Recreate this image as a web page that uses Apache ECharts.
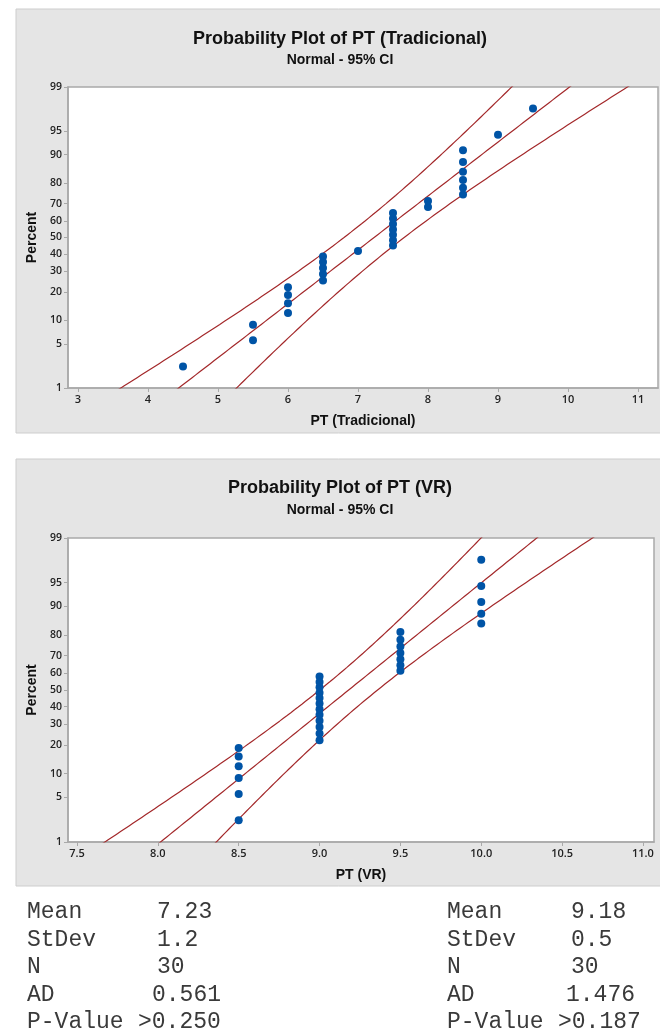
<!DOCTYPE html>
<html>
<head>
<meta charset="utf-8">
<script src="https://cdn.jsdelivr.net/npm/echarts@6/dist/echarts.min.js"></script>
<style>
html,body{margin:0;padding:0;background:#fff;}
#c{width:660px;height:1031px;}
</style>
</head>
<body>
<div id="c"></div>
<script>
// ---------------- data ----------------
const percentTicks = [1, 5, 10, 20, 30, 40, 50, 60, 70, 80, 90, 95, 99];
const tradXTicks = [3, 4, 5, 6, 7, 8, 9, 10, 11];
const vrXTicks = [7.5, 8.0, 8.5, 9.0, 9.5, 10.0, 10.5, 11.0];
const tradValues = [4.5, 5.5, 5.5, 6, 6, 6, 6, 6.5, 6.5, 6.5, 6.5, 6.5, 7,
  7.5, 7.5, 7.5, 7.5, 7.5, 7.5, 7.5, 8, 8, 8.5, 8.5, 8.5, 8.5, 8.5, 8.5, 9, 9.5];
const vrValues = [8.5, 8.5, 8.5, 8.5, 8.5, 8.5,
  9, 9, 9, 9, 9, 9, 9, 9, 9, 9, 9, 9,
  9.5, 9.5, 9.5, 9.5, 9.5, 9.5, 9.5,
  10, 10, 10, 10, 10];
const statLabels = ['Mean', 'StDev', 'N', 'AD', 'P-Value'];
const tradStatText = ['7.23', '1.2', '30', '0.561', '>0.250'];
const vrStatText = ['9.18', '0.5', '30', '1.476', '>0.187'];
const tradMean = 7.23, tradSD = 1.2, tradN = 30;
const vrMean = 9.18, vrSD = 0.5, vrN = 30;

// ---------------- helpers ----------------
function probit(p) {
  const a = [-3.969683028665376e+01, 2.209460984245205e+02, -2.759285104469687e+02, 1.383577518672690e+02, -3.066479806614716e+01, 2.506628277459239e+00];
  const b = [-5.447609879822406e+01, 1.615858368580409e+02, -1.556989798598866e+02, 6.680131188771972e+01, -1.328068155288572e+01];
  const c = [-7.784894002430293e-03, -3.223964580411365e-01, -2.400758277161838e+00, -2.549732539343734e+00, 4.374664141464968e+00, 2.938163982698783e+00];
  const d = [7.784695709041462e-03, 3.224671290700398e-01, 2.445134137142996e+00, 3.754408661907416e+00];
  const pl = 0.02425, ph = 1 - pl;
  let q, r;
  if (p < pl) {
    q = Math.sqrt(-2 * Math.log(p));
    return (((((c[0]*q+c[1])*q+c[2])*q+c[3])*q+c[4])*q+c[5]) / ((((d[0]*q+d[1])*q+d[2])*q+d[3])*q+1);
  } else if (p <= ph) {
    q = p - 0.5; r = q*q;
    return (((((a[0]*r+a[1])*r+a[2])*r+a[3])*r+a[4])*r+a[5])*q / (((((b[0]*r+b[1])*r+b[2])*r+b[3])*r+b[4])*r+1);
  } else {
    q = Math.sqrt(-2 * Math.log(1 - p));
    return -(((((c[0]*q+c[1])*q+c[2])*q+c[3])*q+c[4])*q+c[5]) / ((((d[0]*q+d[1])*q+d[2])*q+d[3])*q+1);
  }
}
const zMin = probit(0.01), zMax = probit(0.99);
const zTicks = percentTicks.map(p => probit(p / 100));

function points(vals) {
  const s = vals.slice().sort((x, y) => x - y), n = s.length;
  return s.map((v, i) => [v, probit((i + 1 - 0.3) / (n + 0.4))]);
}
function fitLines(mu, sd, n) {
  const mid = [], lo = [], hi = [];
  for (let k = 0; k <= 120; k++) {
    const z = -2.6 + k * 5.2 / 120;
    const x = mu + sd * z;
    const h = 1.96 * sd * Math.sqrt((1 + z * z / 2) / n);
    mid.push([x, z]); lo.push([x - h, z]); hi.push([x + h, z]);
  }
  return [mid, lo, hi];
}

const LINE = '#a3282a', DOT = '#0054a6', BORDER = '#a9a9a9';
const narrow = "'Liberation Sans', sans-serif";
const tickFont = "'Open Sans', 'Noto Sans', sans-serif";

function xAxis(gi, min, max, ticks, name, dec) {
  return {
    gridIndex: gi, type: 'value', min: min, max: max,
    name: name, nameLocation: 'middle', nameGap: 26,
    nameTextStyle: { fontFamily: narrow, fontWeight: 'bold', fontSize: 14, color: '#111' },
    axisLine: { show: true, onZero: false, lineStyle: { color: BORDER, width: 1.5 } },
    axisTick: { show: true, length: 4, lineStyle: { color: BORDER }, customValues: ticks },
    axisLabel: { customValues: ticks, margin: 6, fontFamily: tickFont, fontWeight: 600, fontSize: 11, color: '#222',
      formatter: v => dec ? v.toFixed(1) : String(Math.round(v)) },
    splitLine: { show: false }
  };
}
function yAxis(gi) {
  return {
    gridIndex: gi, type: 'value', min: zMin, max: zMax,
    name: 'Percent', nameLocation: 'middle', nameGap: 29, nameRotate: 90,
    nameTextStyle: { fontFamily: narrow, fontWeight: 'bold', fontSize: 14, color: '#111' },
    axisLine: { show: true, onZero: false, lineStyle: { color: BORDER, width: 1.5 } },
    axisTick: { show: true, length: 4, lineStyle: { color: BORDER }, customValues: zTicks },
    axisLabel: { customValues: zTicks, margin: 6, fontFamily: tickFont, fontWeight: 600, fontSize: 10.5, color: '#222',
      formatter: v => {
        let best = 0, bd = 1e9;
        zTicks.forEach((z, i) => { const dd = Math.abs(z - v); if (dd < bd) { bd = dd; best = i; } });
        return String(percentTicks[best]);
      } },
    splitLine: { show: false }
  };
}
function lineSeries(data, xi) {
  return { type: 'line', xAxisIndex: xi, yAxisIndex: xi, data: data, showSymbol: false,
    symbol: 'none', clip: true, lineStyle: { color: LINE, width: 1.2 }, silent: true, z: 2, animation: false };
}

const tFit = fitLines(tradMean, tradSD, tradN);
const vFit = fitLines(vrMean, vrSD, vrN);

const graphics = [
  { type: 'rect', shape: { x: 16, y: 9, width: 660, height: 424 }, style: { fill: '#e5e5e5', stroke: '#cdcdcd', lineWidth: 1 }, z: -10 },
  { type: 'rect', shape: { x: 16, y: 459, width: 660, height: 427 }, style: { fill: '#e5e5e5', stroke: '#cdcdcd', lineWidth: 1 }, z: -10 },
  { type: 'text', x: 340, y: 39, style: { text: 'Probability Plot of PT (Tradicional)', textAlign: 'center', textVerticalAlign: 'middle', font: "bold 18px " + narrow, fill: '#111' } },
  { type: 'text', x: 340, y: 60, style: { text: 'Normal - 95% CI', textAlign: 'center', textVerticalAlign: 'middle', font: "bold 14px " + narrow, fill: '#111' } },
  { type: 'text', x: 340, y: 488, style: { text: 'Probability Plot of PT (VR)', textAlign: 'center', textVerticalAlign: 'middle', font: "bold 18px " + narrow, fill: '#111' } },
  { type: 'text', x: 340, y: 510, style: { text: 'Normal - 95% CI', textAlign: 'center', textVerticalAlign: 'middle', font: "bold 14px " + narrow, fill: '#111' } }
];
const rowY = [912, 940, 967, 995, 1022];
const mono = "23px 'Liberation Mono', 'Courier New', monospace";
statLabels.forEach((lab, i) => {
  graphics.push({ type: 'text', x: 27, y: rowY[i], style: { text: lab, textVerticalAlign: 'middle', font: mono, fill: '#3a3a3a' } });
  graphics.push({ type: 'text', x: 447, y: rowY[i], style: { text: lab, textVerticalAlign: 'middle', font: mono, fill: '#3a3a3a' } });
  const lx = i === 4 ? 138 : (i === 3 ? 152 : 157);
  const rx = i === 4 ? 558 : (i === 3 ? 566 : 571);
  graphics.push({ type: 'text', x: lx, y: rowY[i], style: { text: tradStatText[i], textVerticalAlign: 'middle', font: mono, fill: '#3a3a3a' } });
  graphics.push({ type: 'text', x: rx, y: rowY[i], style: { text: vrStatText[i], textVerticalAlign: 'middle', font: mono, fill: '#3a3a3a' } });
});

const chart = echarts.init(document.getElementById('c'), null, { renderer: 'canvas' });
chart.setOption({
  animation: false,
  backgroundColor: '#fff',
  graphic: graphics,
  grid: [
    { left: 68, top: 87, width: 590, height: 301, show: true, backgroundColor: '#fff', borderColor: BORDER, borderWidth: 1.5 },
    { left: 68, top: 538, width: 586, height: 304, show: true, backgroundColor: '#fff', borderColor: BORDER, borderWidth: 1.5 }
  ],
  xAxis: [
    xAxis(0, 3 - 10 / 70, 3 - 10 / 70 + 590 / 70, tradXTicks, 'PT (Tradicional)', false),
    xAxis(1, 7.5 - 9 / 161.7, 7.5 - 9 / 161.7 + 586 / 161.7, vrXTicks, 'PT (VR)', true)
  ],
  yAxis: [yAxis(0), yAxis(1)],
  series: [
    lineSeries(tFit[0], 0), lineSeries(tFit[1], 0), lineSeries(tFit[2], 0),
    { type: 'scatter', xAxisIndex: 0, yAxisIndex: 0, data: points(tradValues), symbolSize: 8, itemStyle: { color: DOT, opacity: 1 }, z: 5 },
    lineSeries(vFit[0], 1), lineSeries(vFit[1], 1), lineSeries(vFit[2], 1),
    { type: 'scatter', xAxisIndex: 1, yAxisIndex: 1, data: points(vrValues), symbolSize: 8, itemStyle: { color: DOT, opacity: 1 }, z: 5 }
  ]
});
</script>
</body>
</html>
